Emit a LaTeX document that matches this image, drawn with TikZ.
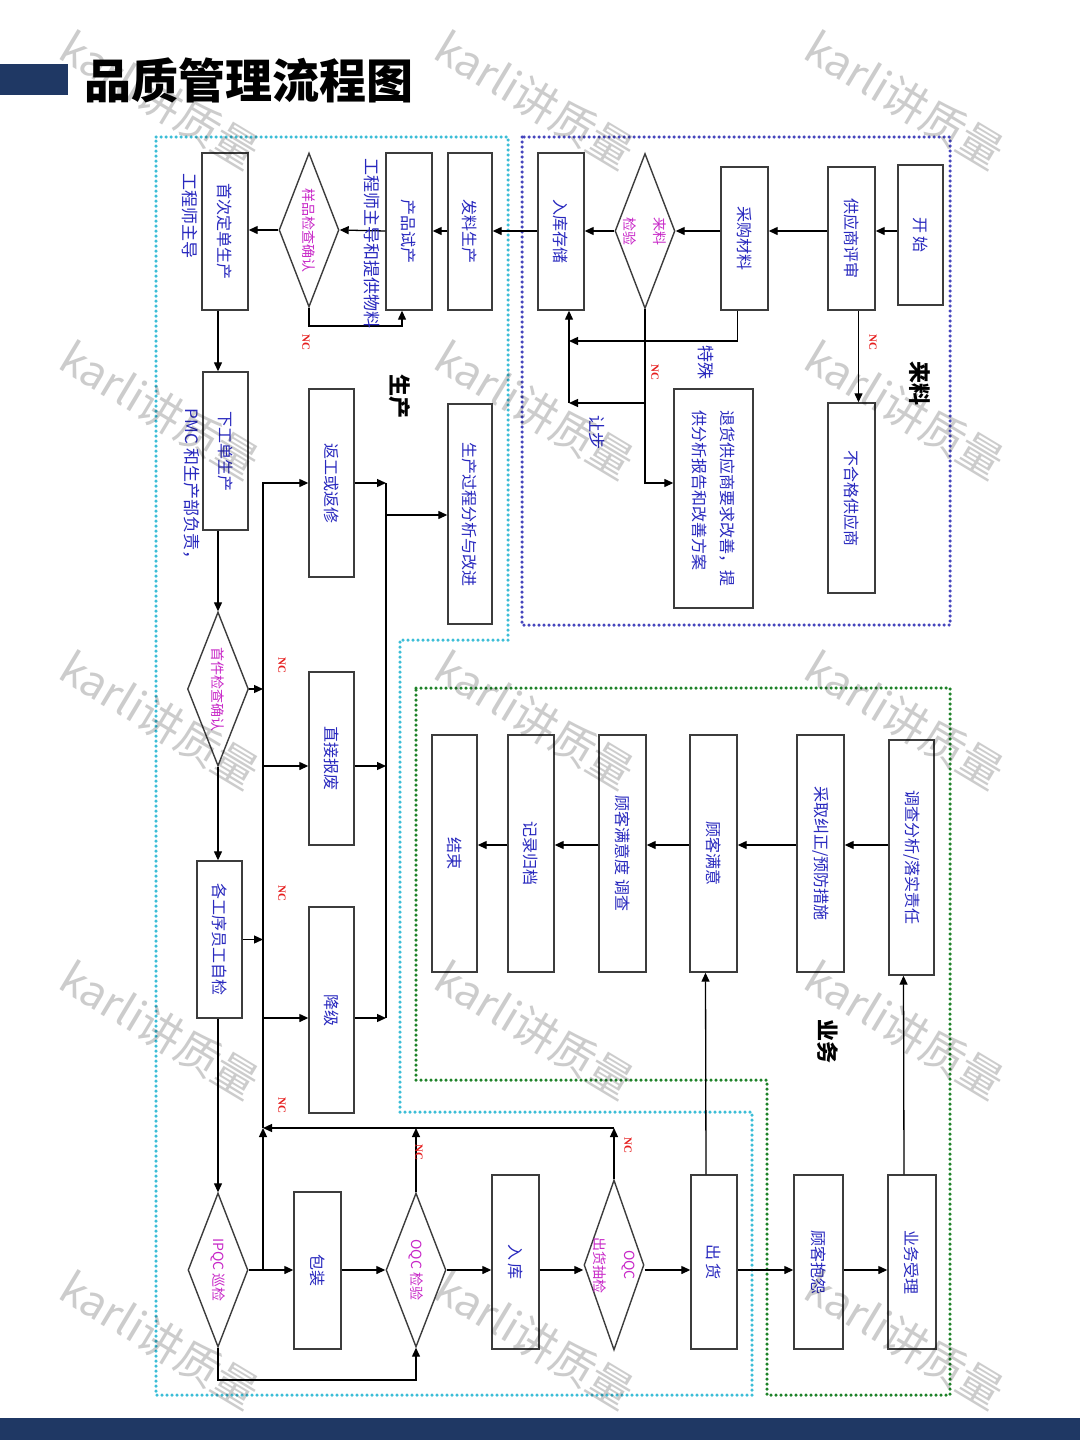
\documentclass[tikz,border=0pt]{standalone}
\usepackage{fontspec}
\setmainfont{Noto Sans CJK SC}
\newfontfamily\lserif{Liberation Serif}
\usetikzlibrary{arrows.meta,shapes.geometric,fit}

\definecolor{navy}{RGB}{31,56,100}
\definecolor{txtblue}{RGB}{40,40,190}
\definecolor{mag}{RGB}{200,40,200}
\definecolor{cyanb}{RGB}{60,190,215}
\definecolor{blueb}{RGB}{70,70,190}
\definecolor{greenb}{RGB}{30,130,40}
\definecolor{ncred}{RGB}{230,30,30}
\definecolor{boxline}{RGB}{60,60,60}

\tikzset{
 box/.style={draw=boxline, line width=1.4pt, inner sep=0pt, fill=white},
 dia/.style={diamond, draw=boxline, line width=1.4pt, inner sep=0pt, aspect=1, fill=white},
 btxt/.style={rotate=-90, text=txtblue, font=\fontsize{16}{28}\selectfont, align=center, inner sep=0pt},
 dtxt/.style={rotate=-90, text=mag, font=\fontsize{14}{30}\selectfont, align=center, inner sep=0pt},
 lbl/.style={rotate=-90, text=txtblue, font=\fontsize{17}{20}\selectfont, inner sep=0pt},
 nclbl/.style={rotate=-90, text=ncred, font=\lserif\bfseries\fontsize{11}{11}\selectfont, inner sep=0pt},
 zone/.style={rotate=-90, font=\bfseries\fontsize{22}{24}\selectfont, inner sep=0pt},
 arr/.style={draw=black, line width=1.3pt, -{Triangle[length=9pt,width=8pt]}},
 ln/.style={draw=black, line width=1.3pt},
 region/.style={line width=3.5pt, line cap=round, dash pattern=on 0pt off 5pt},
 wm/.style={rotate=-31, text=black, text opacity=0.2, font=\fontsize{44}{44}\selectfont},
}
\newcommand\bx[6]{\node[box, fit={(#2,#3) (#4,#5)}] (#1) {}; \node[btxt] at (#1) {#6};}
\newcommand\dm[6]{\node[dia, minimum width=#4pt, minimum height=#5pt] (#1) at (#2,#3) {}; \node[dtxt] at (#1) {#6};}

\begin{document}
\begin{tikzpicture}[x=1pt,y=-1pt]
\fill[white] (0,0) rectangle (1080,1440);
\useasboundingbox (0,0) rectangle (1080,1440);

% title and bars
\fill[navy] (0,64) rectangle (68,95);
\node[anchor=west, font=\bfseries\fontsize{47}{47}\selectfont, inner sep=0pt] (title) at (84,80) {品质管理流程图};
\fill[navy] (0,1418) rectangle (1080,1440);

% regions
\draw[region, draw=cyanb] (156,137) -- (508,137) -- (508,640) -- (400,640) -- (400,1112) -- (752,1112) -- (752,1395) -- (156,1395) -- cycle;
\draw[region, draw=blueb] (522,137) rectangle (950,625);
\draw[region, draw=greenb] (416,688) -- (950,688) -- (950,1395) -- (767,1395) -- (767,1080) -- (416,1080) -- cycle;

% helper coordinates
\coordinate (Y1) at (0,231);
\coordinate (J1) at (569,341);
\coordinate (J2) at (569,403);
\coordinate (Yb) at (0,483);
\coordinate (K1) at (402,326);
\coordinate (X1) at (218,0);
\coordinate (V) at (263,0);
\coordinate (W) at (386,0);
\coordinate (Yc) at (0,515);
\coordinate (Yd) at (0,766);
\coordinate (Ye) at (0,1018);
\coordinate (R) at (0,1128);
\coordinate (Ym) at (0,1270);
\coordinate (B) at (0,1380);
\coordinate (Yf) at (0,845);

% 来料
\bx{ks}{898}{165}{943}{305}{开 始}
\bx{gys}{828}{167}{875}{310}{供应商评审}
\bx{cg}{721}{167}{768}{310}{采购材料}
\dm{lljy}{645}{231}{60}{155}{来料\\检验}
\bx{rkcc}{538}{153}{584}{310}{入库存储}
\bx{bhg}{828}{403}{875}{593}{不合格供应商}
\node[box, fit={(674,389) (753,608)}] (th) {};
\node[btxt, align=left] at (th) {退货供应商要求改善，提\\供分析报告和改善方案};

% 生产
\bx{flsc}{448}{153}{492}{310}{发料生产}
\bx{pscs}{386}{153}{432}{310}{产品试产}
\dm{ypjc}{309}{230}{60}{154}{样品检查确认}
\bx{scdd}{202}{153}{248}{310}{首次定单生产}
\bx{xgd}{203}{372}{248}{530}{下工单生产}
\bx{fg}{309}{389}{354}{577}{返工或返修}
\bx{scgc}{448}{404}{492}{624}{生产过程分析与改进}
\dm{sjjc}{218}{689}{61}{154}{首件检查确认}
\bx{zjbf}{309}{672}{354}{845}{直接报废}
\bx{gjx}{197}{861}{242}{1018}{各工序员工自检}
\bx{jj}{309}{907}{354}{1113}{降级}
\dm{ipqc}{218}{1270}{60}{154}{IPQC 巡检}
\bx{bz}{294}{1192}{341}{1349}{包装}
\dm{oqc}{416}{1270}{60}{154}{OQC 检验}
\bx{rk}{492}{1175}{539}{1349}{入 库}
\dm{oqcb}{614}{1265}{60}{170}{OQC\\出货抽检}
\bx{ch}{691}{1175}{737}{1349}{出 货}

% 业务
\bx{gkbp}{794}{1175}{843}{1349}{顾客抱怨}
\bx{ywsl}{888}{1175}{936}{1349}{业务受理}
\bx{dcfx}{889}{740}{934}{975}{调查分析/落实责任}
\bx{cqjz}{797}{735}{844}{972}{采取纠正/预防措施}
\bx{gkmy}{690}{735}{737}{972}{顾客满意}
\bx{gkmyd}{599}{735}{646}{972}{顾客满意度 调查}
\bx{jlgd}{508}{735}{554}{972}{记录归档}
\bx{js}{432}{735}{477}{972}{结束}

% arrows 来料
\draw[arr] (ks.west|-Y1) -- (gys.east|-Y1);
\draw[arr] (gys.west|-Y1) -- (cg.east|-Y1);
\draw[arr] (cg.west|-Y1) -- (lljy.east);
\draw[arr] (lljy.west) -- (rkcc.east|-Y1);
\draw[arr] (rkcc.west|-Y1) -- (flsc.east|-Y1);
\draw[arr] ([xshift=7pt]gys.south) -- ([xshift=7pt]bhg.north);
\draw[arr] ([xshift=-7pt]cg.south) |- (J1);
\draw[arr] (J2) -- (J2|-rkcc.south);
\draw[arr] (lljy.south) |- (th.west|-Yb);
\draw[arr] (lljy.south|-J2) -- (J2);

% arrows 生产
\draw[arr] (flsc.west|-Y1) -- (pscs.east|-Y1);
\draw[arr] (pscs.west|-Y1) -- (ypjc.east);
\draw[arr] (ypjc.west) -- (scdd.east|-ypjc.west);
\draw[arr] (ypjc.south) |- (K1) -- (K1|-pscs.south);
\draw[arr] (scdd.south-|X1) -- (xgd.north-|X1);
\draw[arr] (xgd.south-|X1) -- (sjjc.north);
\draw[arr] (sjjc.east) -- (sjjc.east-|V);
\draw[arr] (sjjc.south) -- (sjjc.south|-gjx.north);
\draw[arr] (gjx.east) -- (gjx.east-|V);
\draw[arr] (gjx.south-|X1) -- (ipqc.north);
\draw[arr] (V|-R) |- (fg.west|-Yb);
\draw[arr] (fg.east|-Yb) -- (W|-Yb);
\draw[ln] (W|-Yb) -- (W|-Ye);
\draw[arr] (W|-Yc) -- (scgc.west|-Yc);
\draw[arr] (V|-Yd) -- (zjbf.west|-Yd);
\draw[arr] (zjbf.east|-Yd) -- (W|-Yd);
\draw[arr] (V|-Ye) -- (jj.west|-Ye);
\draw[arr] (jj.east|-Ye) -- (W|-Ye);
\draw[arr] (ipqc.east) -- (bz.west|-Ym);
\draw[arr] (V|-Ym) -- (V|-R);
\draw[arr] (bz.east|-Ym) -- (oqc.west);
\draw[arr] (oqc.east) -- (rk.west|-Ym);
\draw[arr] (rk.east|-Ym) -- (oqcb.west|-Ym);
\draw[arr] (oqcb.east|-Ym) -- (ch.west|-Ym);
\draw[arr] (ch.east|-Ym) -- (gkbp.west|-Ym);
\draw[arr] (gkbp.east|-Ym) -- (ywsl.west|-Ym);
\draw[arr] (oqc.north) -- (oqc.north|-R);
\draw[arr] (oqcb.north) -- (oqcb.north|-R);
\draw[arr] (oqcb.north|-R) -- (V|-R);
\draw[arr] (ipqc.south) |- (oqc.south|-B) -- (oqc.south);

% arrows 业务
\draw[arr] ([xshift=-8pt]ch.north) -- ([xshift=-8pt]gkmy.south);
\draw[arr] ([xshift=-8pt]ywsl.north) -- ([xshift=-8pt]dcfx.south);
\draw[arr] (dcfx.west|-Yf) -- (cqjz.east|-Yf);
\draw[arr] (cqjz.west|-Yf) -- (gkmy.east|-Yf);
\draw[arr] (gkmy.west|-Yf) -- (gkmyd.east|-Yf);
\draw[arr] (gkmyd.west|-Yf) -- (jlgd.east|-Yf);
\draw[arr] (jlgd.west|-Yf) -- (js.east|-Yf);

% labels
\node[nclbl] (nc1) at (873,342) {NC};
\node[nclbl] (nc2) at (655,372) {NC};
\node[nclbl] (nc3) at (306,342) {NC};
\node[nclbl] (nc4) at (282,665) {NC};
\node[nclbl] (nc5) at (282,893) {NC};
\node[nclbl] (nc6) at (282,1105) {NC};
\node[nclbl] (nc7) at (419,1152) {NC};
\node[nclbl] (nc8) at (628,1145) {NC};
\node[lbl] (l1) at (372,243) {工程师主导和提供物料};
\node[lbl] (l2) at (190,216) {工程师主导};
\node[lbl] (l3) at (192,488) {PMC 和生产部负责，};
\node[lbl] (l4) at (706,362) {特殊};
\node[lbl] (l5) at (597,432) {让步};
\node[zone] (z1) at (920,383) {来料};
\node[zone] (z2) at (400,396) {生产};
\node[zone] (z3) at (828,1041) {业务};

% watermarks
\foreach \wx in {160,535,905}{
  \foreach \wy in {100,410,720,1030,1340}{
    \node[wm] (wm-\wx-\wy) at (\wx,\wy) {karli讲质量};
  }
}
\end{tikzpicture}
\end{document}
